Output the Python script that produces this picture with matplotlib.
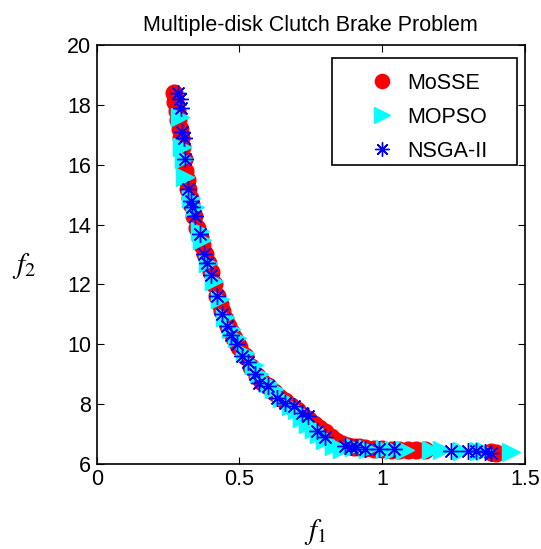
import matplotlib
matplotlib.use("Agg")
import matplotlib.pyplot as plt
from matplotlib.patches import Rectangle

plt.rcParams['font.family'] = ['Liberation Sans', 'DejaVu Sans']
plt.rcParams['mathtext.fontset'] = 'stix'

title = "Multiple-disk Clutch Brake Problem"
series_names = ["MoSSE", "MOPSO", "NSGA-II"]

mosse_f1 = [0.27, 0.275, 0.28, 0.285, 0.29, 0.295, 0.30, 0.305, 0.31, 0.315, 0.32, 0.325, 0.33, 0.34,
            0.35, 0.36, 0.37, 0.38, 0.39, 0.40, 0.41, 0.42, 0.43, 0.44, 0.45, 0.46, 0.47, 0.48, 0.49,
            0.50, 0.52, 0.54, 0.56, 0.58, 0.60, 0.62, 0.64, 0.66, 0.68, 0.70, 0.72, 0.74, 0.76, 0.78,
            0.80, 0.82, 0.84, 0.86, 0.88, 0.90, 0.92, 0.94, 0.97, 1.00, 1.03, 1.06, 1.09, 1.12, 1.15,
            1.38, 1.40]
mosse_f2 = [18.4, 18.1, 17.8, 17.5, 17.2, 16.9, 16.6, 16.2, 15.8, 15.5, 15.2, 14.9, 14.7, 14.3,
            13.9, 13.6, 13.3, 13.0, 12.7, 12.4, 12.0, 11.6, 11.35, 11.1, 10.85, 10.6, 10.4, 10.2, 10.05,
            9.9, 9.6, 9.25, 8.95, 8.75, 8.6, 8.4, 8.25, 8.1, 7.95, 7.8, 7.65, 7.5, 7.35, 7.2,
            7.05, 6.9, 6.75, 6.65, 6.6, 6.58, 6.55, 6.52, 6.5, 6.5, 6.48, 6.47, 6.46, 6.45, 6.45,
            6.4, 6.38]

mopso_f1 = [0.29, 0.30, 0.305, 0.31, 0.33, 0.345, 0.36, 0.37, 0.39, 0.41, 0.43, 0.45, 0.47, 0.49,
            0.52, 0.55, 0.57, 0.60, 0.62, 0.65, 0.68, 0.70, 0.72, 0.74, 0.76, 0.78, 0.80, 0.83, 0.86,
            0.90, 0.95, 1.01, 1.04, 1.08, 1.17, 1.21, 1.28, 1.34, 1.36, 1.45]
mopso_f2 = [17.6, 16.6, 16.2, 15.6, 14.9, 14.6, 13.8, 13.5, 12.7, 12.1, 11.5, 10.9, 10.5, 10.2,
            9.7, 9.3, 9.0, 8.7, 8.5, 8.2, 7.95, 7.8, 7.55, 7.35, 7.15, 7.0, 6.8, 6.6, 6.5,
            6.55, 6.5, 6.5, 6.48, 6.47, 6.45, 6.45, 6.43, 6.42, 6.42, 6.4]

nsga_f1 = [0.285, 0.29, 0.295, 0.30, 0.305, 0.31, 0.32, 0.33, 0.335, 0.345, 0.36, 0.375, 0.385,
           0.40, 0.42, 0.44, 0.455, 0.47, 0.49, 0.51, 0.53, 0.555, 0.57, 0.60, 0.63, 0.66, 0.69,
           0.72, 0.74, 0.77, 0.80, 0.87, 0.89, 0.91, 0.94, 0.99, 1.04, 1.24, 1.30, 1.33, 1.36, 1.38]
nsga_f2 = [18.4, 18.2, 17.9, 17.1, 16.9, 16.2, 15.2, 14.8, 14.6, 14.3, 13.7, 13.0, 12.7,
           12.3, 11.6, 11.0, 10.6, 10.3, 10.0, 9.6, 9.4, 9.0, 8.7, 8.6, 8.2, 8.05, 7.95,
           7.7, 7.6, 7.1, 6.9, 6.6, 6.55, 6.55, 6.5, 6.5, 6.5, 6.42, 6.42, 6.42, 6.4, 6.38]

x_ticks = [0, 0.5, 1, 1.5]
x_ticklabels = ["0", "0.5", "1", "1.5"]
y_ticks = [6, 8, 10, 12, 14, 16, 18, 20]

W, H = 541, 549
fig = plt.figure(figsize=(W / 100, H / 100), dpi=100)
ax = fig.add_axes([0.179, 0.155, 0.791, 0.763])

ax.plot(mosse_f1, mosse_f2, linestyle='none', marker='o', markersize=12,
        color='red', markeredgecolor='red', label=series_names[0])
ax.plot(mopso_f1, mopso_f2, linestyle='none', marker='>', markersize=13,
        color='cyan', markeredgecolor='cyan', label=series_names[1])
ax.plot(nsga_f1, nsga_f2, linestyle='none', marker=(8, 2, 0), markersize=12,
        color='blue', markeredgecolor='blue', markeredgewidth=1.0, label=series_names[2])

ax.set_xlim(0, 1.5)
ax.set_ylim(6, 20)
ax.set_xticks(x_ticks)
ax.set_xticklabels(x_ticklabels)
ax.set_yticks(y_ticks)
ax.tick_params(direction='in', top=True, right=True, labelsize=15.5, length=5, width=0.8, pad=4)
for s in ax.spines.values():
    s.set_linewidth(1.2)

ax.set_title(title, fontsize=15.5, pad=10)
fig.text(0.583, 0.003, r"$\mathit{f_1}$", fontsize=21, ha='center', va='bottom')
fig.text(0.045, 0.515, r"$\mathit{f_2}$", fontsize=21, ha='center', va='center')

# legend frame (MATLAB-style box)
frame = Rectangle((332 / W, 1 - 165 / H), 185 / W, 107 / H, transform=fig.transFigure,
                  facecolor='white', edgecolor='black', linewidth=1.2, zorder=4)
ax.add_patch(frame)
frame.set_clip_on(False)

leg = ax.legend(loc='upper left', bbox_to_anchor=(360 / W, 1 - 73 / H),
                bbox_transform=fig.transFigure, fontsize=15.5,
                frameon=False, borderpad=0, handletextpad=0.2, labelspacing=0.6,
                markerscale=0.85, handlelength=2.0, borderaxespad=0)
leg.set_zorder(5)

fig.savefig("out.png", dpi=100)
